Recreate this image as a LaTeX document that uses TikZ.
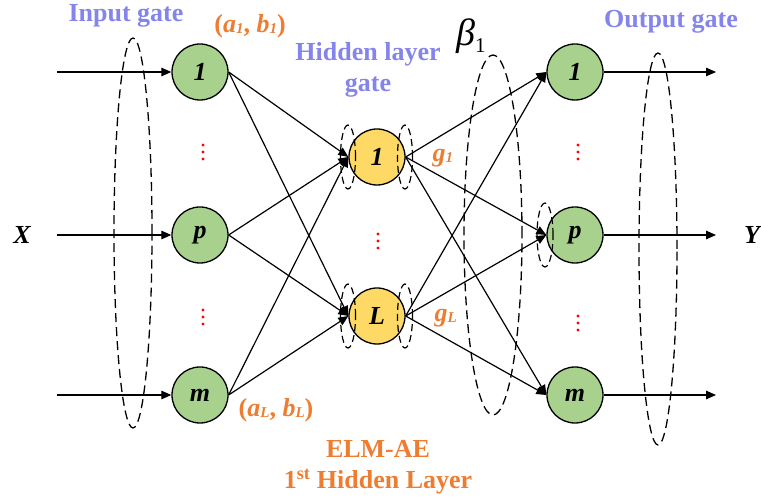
\documentclass[tikz,border=0pt]{standalone}
\usepackage{fontspec}
\setmainfont{Liberation Serif}
\usetikzlibrary{arrows.meta}
\definecolor{nodegreen}{RGB}{169,209,142}
\definecolor{nodeyellow}{RGB}{255,217,102}
\definecolor{gateblue}{RGB}{132,132,235}
\definecolor{elmorange}{RGB}{237,125,49}
\newcommand{\bigtxt}{\fontsize{26}{31}\selectfont}
\newcommand{\sbx}[1]{\raisebox{-1.5pt}{\fontsize{15}{15}\selectfont\itshape #1}}

\begin{document}
\begin{tikzpicture}[x=1pt,y=-1pt,
  neuron/.style={circle,draw,line width=1.3pt,minimum size=56pt,inner sep=0pt,
    font=\bigtxt\bfseries\itshape},
  inneuron/.style={neuron,fill=nodegreen},
  hidneuron/.style={neuron,fill=nodeyellow},
  link/.style={line width=1.2pt,-{Triangle[length=10pt,width=8.5pt]}},
  gatering/.style={line width=1.3pt,dash pattern=on 9pt off 5pt},
  smallring/.style={line width=1.2pt,dash pattern=on 7pt off 4pt},
  gatelabel/.style={text=gateblue,font=\bigtxt\bfseries,align=center},
  orangelabel/.style={text=elmorange,font=\bigtxt\bfseries,align=center},
  iolabel/.style={font=\bigtxt\bfseries\itshape}
]
\useasboundingbox (0,0) rectangle (761,502);

% dashed gate rings
\draw[gatering] (133,233) ellipse [x radius=19pt, y radius=195pt];
\draw[gatering] (493,235) ellipse [x radius=29pt, y radius=180pt];
\draw[gatering] (658,249) ellipse [x radius=19pt, y radius=196pt];

% input layer
\node[inneuron] (i1) at (200,72)  {1};
\node[inneuron] (ip) at (200,235) {p};
\node[inneuron] (im) at (200,395) {m};

% hidden layer
\node[hidneuron] (h1) at (377,157) {1};
\node[hidneuron] (hL) at (377,316) {L};

% output layer
\node[inneuron] (o1) at (575,72)  {1};
\node[inneuron] (op) at (575,235) {p};
\node[inneuron] (om) at (575,395) {m};

% small gate rings at the hidden and output neurons
\foreach \n in {h1,hL}{
  \draw[smallring] ([xshift=-29pt]\n.center) ellipse [x radius=7.5pt, y radius=32pt];
  \draw[smallring] ([xshift=28pt]\n.center) ellipse [x radius=7.5pt, y radius=32pt];
}
\draw[smallring] ([xshift=-30pt]op.center) ellipse [x radius=8pt, y radius=32pt];

% external inputs and outputs
\coordinate (x1) at (57,72);
\coordinate (xp) at (57,235);
\coordinate (xm) at (57,395);
\coordinate (y1) at (716,72);
\coordinate (yp) at (716,235);
\coordinate (ym) at (716,395);
\foreach \a/\b in {x1/i1,xp/ip,xm/im}
  \draw[link] (\a) -- (\b.west);
\foreach \a/\b in {o1/y1,op/yp,om/ym}
  \draw[link] (\a.east) -- (\b);

% input -> hidden
\foreach \a in {i1,ip,im}
  \foreach \b in {h1,hL}
    \draw[link] (\a.east) -- (\b.west);
% hidden -> output
\foreach \a in {h1,hL}
  \foreach \b in {o1,op,om}
    \draw[link] (\a.east) -- (\b.west);

% vertical ellipses
\foreach \x/\y in {203/152,203/317,378/241,578/152,578/323}
  \foreach \d in {-7,0,7}
    \fill[red] (\x,\y+\d) circle[radius=1.6pt];

% labels
\node[iolabel] (xl) at (22,235) {X};
\node[iolabel] (yl) at (752,235) {Y};
\node[gatelabel] (ing) at (126,16) {Input gate};
\node[gatelabel] (outg) at (671,22) {Output gate};
\node[gatelabel] (hidg) at (368,70) {Hidden layer\\gate};
\node[anchor=base west,inner sep=0pt] (beta) at (456,46)
  {\fontsize{38}{38}\selectfont\itshape β\raisebox{-7pt}{\upshape\fontsize{21}{21}\selectfont 1}};
\node[orangelabel] (ab1) at (250,26) {(\textit{a}\sbx{1}, \textit{b}\sbx{1})};
\node[orangelabel] (abL) at (276,410) {(\textit{a}\sbx{L}, \textit{b}\sbx{L})};
\node[orangelabel,anchor=west] (g1) at (429,158) {\textit{g}\sbx{1}};
\node[orangelabel,anchor=west] (gL) at (431,318) {\textit{g}\sbx{L}};
\node[orangelabel] (elm) at (378,467) {ELM-AE\\1\textsuperscript{st} Hidden Layer};
\end{tikzpicture}
\end{document}
